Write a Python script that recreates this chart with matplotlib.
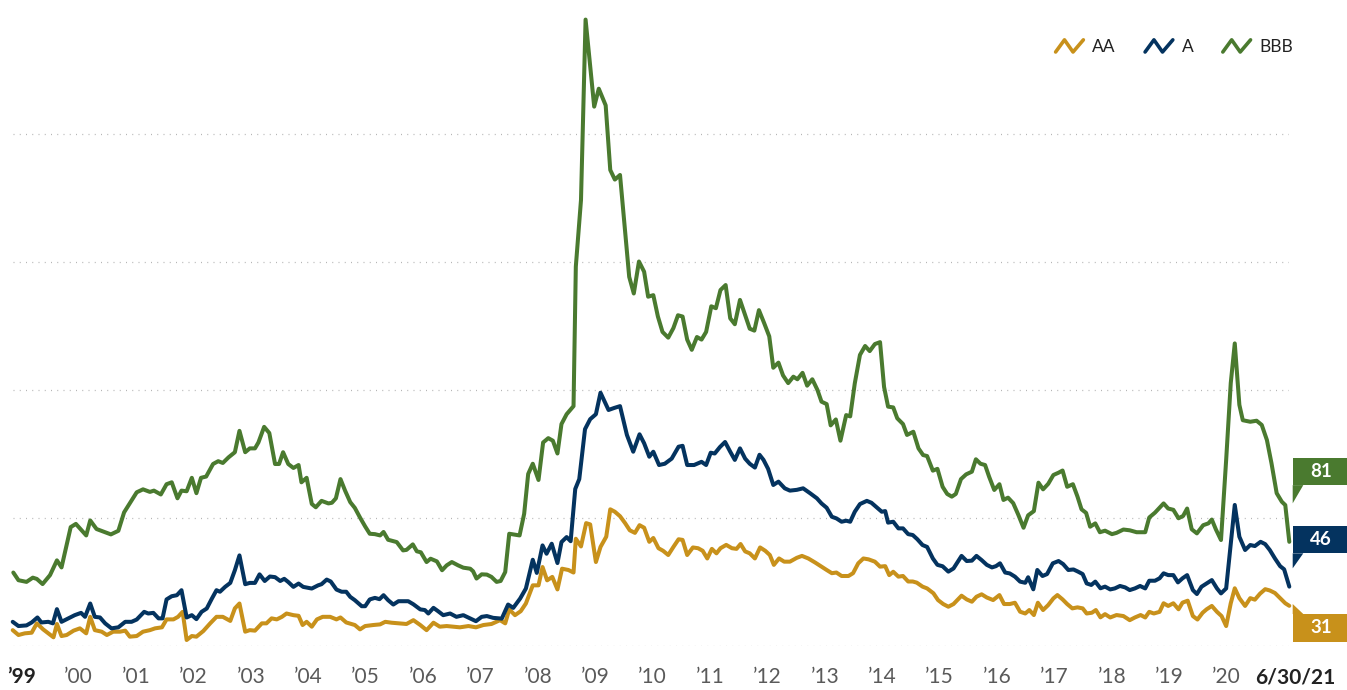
import numpy as np
import matplotlib
matplotlib.use("Agg")
import matplotlib.pyplot as plt
from matplotlib.legend_handler import HandlerBase
from matplotlib.lines import Line2D
from matplotlib.patches import Polygon, Rectangle
from matplotlib.transforms import IdentityTransform, blended_transform_factory

plt.rcParams['font.family'] = ['Lato', 'DejaVu Sans']

# ---------------- data (decimal year, spread in bps) ----------------
bbb_t = [1999.11, 1999.20, 1999.34, 1999.45, 1999.52, 1999.62, 1999.75, 1999.87, 1999.95,
         2000.11, 2000.20, 2000.38, 2000.45, 2000.56, 2000.68, 2000.81, 2000.94,
         2001.04, 2001.11, 2001.26, 2001.37, 2001.49, 2001.56, 2001.68, 2001.78, 2001.87, 2001.97,
         2002.04, 2002.13, 2002.22, 2002.30, 2002.38, 2002.47, 2002.59, 2002.68, 2002.76, 2002.86, 2002.97,
         2003.05, 2003.15, 2003.23, 2003.32, 2003.38, 2003.48, 2003.57, 2003.67, 2003.74, 2003.81, 2003.90, 2003.99,
         2004.08, 2004.13, 2004.22, 2004.31, 2004.38, 2004.48, 2004.60, 2004.66, 2004.73, 2004.81, 2004.89, 2004.98,
         2005.06, 2005.15, 2005.24, 2005.32, 2005.41, 2005.50, 2005.56, 2005.64, 2005.79, 2005.90, 2005.96,
         2006.07, 2006.14, 2006.21, 2006.31, 2006.38, 2006.49, 2006.58, 2006.66, 2006.75, 2006.86, 2006.95,
         2007.07, 2007.12, 2007.18, 2007.27, 2007.36, 2007.44, 2007.53, 2007.60, 2007.68, 2007.75, 2007.93,
         2008.01, 2008.08, 2008.16, 2008.26, 2008.34, 2008.43, 2008.51, 2008.59, 2008.66, 2008.75, 2008.87, 2008.91,
         2009.00, 2009.08, 2009.23, 2009.31, 2009.43, 2009.51, 2009.59, 2009.68, 2009.84, 2009.92,
         2010.01, 2010.10, 2010.17, 2010.26, 2010.34, 2010.42, 2010.52, 2010.61, 2010.69, 2010.77, 2010.85, 2010.93,
         2011.02, 2011.10, 2011.18, 2011.27, 2011.35, 2011.43, 2011.52, 2011.60, 2011.68, 2011.77, 2011.86, 2011.94,
         2012.02, 2012.10, 2012.19, 2012.28, 2012.35, 2012.44, 2012.52, 2012.61, 2012.70, 2012.77, 2012.86, 2012.94,
         2013.03, 2013.12, 2013.19, 2013.28, 2013.35, 2013.44, 2013.52, 2013.62, 2013.69, 2013.77, 2013.86, 2013.95,
         2014.03, 2014.12, 2014.21, 2014.28, 2014.35, 2014.44, 2014.51, 2014.61, 2014.68, 2014.79, 2014.88, 2014.96,
         2015.03, 2015.13, 2015.21, 2015.30, 2015.38, 2015.46, 2015.53, 2015.62, 2015.71, 2015.81, 2015.88, 2015.96,
         2016.04, 2016.11, 2016.20, 2016.29, 2016.36, 2016.44, 2016.53, 2016.62, 2016.71, 2016.79, 2016.89, 2016.97,
         2017.05, 2017.14, 2017.23, 2017.32, 2017.39, 2017.47, 2017.57, 2017.65, 2017.72, 2017.80, 2017.87, 2017.96,
         2018.04, 2018.13, 2018.25, 2018.33, 2018.45, 2018.56, 2018.68, 2018.83, 2018.90,
         2019.00, 2019.15, 2019.23, 2019.32, 2019.41, 2019.49, 2019.56, 2019.64, 2019.73, 2019.84, 2019.93, 2019.99,
         2020.06, 2020.15, 2020.24, 2020.32, 2020.39, 2020.47, 2020.53, 2020.66, 2020.77, 2020.86, 2020.95,
         2021.03, 2021.12, 2021.21, 2021.27, 2021.34]
bbb_v = [57, 51, 49.7, 53, 52, 48, 55, 66.5, 61,
         92.5, 95, 86, 97.7, 91, 89, 86.8, 89.6,
         104, 109, 119.7, 122, 120, 121, 118, 126, 127.5, 115,
         121, 120.5, 131, 119, 131, 132, 141.8, 144, 142.6, 147, 151,
         167.7, 151, 154, 154, 158.6, 170.8, 166, 141.8, 141.8, 151, 141.8, 138.7,
         141, 127.5, 131, 110.6, 108, 113, 111, 111.5, 115, 130, 121, 112,
         107.5, 100, 93, 87.3, 87, 86, 88.7, 82.6, 80.8, 74.3, 74.7,
         79, 73.6, 72.8, 65.2, 67.8, 65.7, 58.8, 62.6, 65.2, 62.6, 60.8,
         60, 58, 52.3, 55.6, 55.4, 53.6, 49.7, 50.4, 57.4, 87.3, 86,
         102.9, 134, 142, 129.3, 158.6, 162, 160, 150, 173, 180.7, 187, 296,
         348, 489, 421, 435, 422, 371.5, 364, 367.6, 288, 275,
         300, 292, 272.5, 273.7, 257, 245, 240.5, 248, 258, 257, 239, 231,
         241, 239, 245, 265, 263.5, 277.7, 281.6, 255.6, 251, 270, 258, 247.5,
         246, 262, 252, 241.5, 217, 221, 211, 205, 210, 208, 213, 203,
         208, 199.6, 190.5, 188.6, 172, 176.6, 160, 180, 179, 204.8, 227, 234,
         230, 235.5, 237, 202, 186.6, 186, 177.5, 173, 164.5, 167, 154, 148.8,
         148, 136.6, 138, 124, 118.4, 116.3, 118.4, 130, 133.7, 135.8, 145.5, 142,
         141, 131.9, 121.5, 126, 113.7, 115.5, 111.2, 102, 92, 101.7, 105, 127.2,
         122, 126.3, 133.2, 135, 136.7, 124, 126, 116.3, 106.4, 103.6, 92.8, 95.4,
         88.5, 89.7, 87, 88, 90.6, 90, 88.5, 88.5, 100,
         103.8, 111, 107, 106, 99.4, 101.2, 107, 90.8, 87.6, 94, 95.4, 98.4,
         90.8, 82.4, 145, 205, 236, 188, 176, 174.8, 175.6, 172.3, 160.5,
         142.3, 119, 112.3, 109.7, 81]

a_t = [1999.10, 1999.20, 1999.34, 1999.43, 1999.53, 1999.60, 1999.72, 1999.80, 1999.87, 1999.95,
       2000.07, 2000.18, 2000.29, 2000.36, 2000.45, 2000.53, 2000.62, 2000.71, 2000.82, 2000.94,
       2001.06, 2001.17, 2001.26, 2001.39, 2001.46, 2001.55, 2001.64, 2001.71, 2001.78, 2001.87, 2001.96,
       2002.04, 2002.13, 2002.22, 2002.30, 2002.39, 2002.48, 2002.57, 2002.65, 2002.71, 2002.80, 2002.89, 2002.97,
       2003.05, 2003.15, 2003.23, 2003.32, 2003.40, 2003.49, 2003.58, 2003.67, 2003.76, 2003.83, 2003.90, 2003.99,
       2004.08, 2004.16, 2004.31, 2004.42, 2004.48, 2004.57, 2004.64, 2004.74, 2004.83, 2004.91, 2004.98,
       2005.06, 2005.18, 2005.24, 2005.32, 2005.41, 2005.49, 2005.56, 2005.64, 2005.73, 2005.82, 2005.90, 2005.99,
       2006.08, 2006.20, 2006.28, 2006.34, 2006.43, 2006.51, 2006.60, 2006.72, 2006.83, 2006.95,
       2007.05, 2007.17, 2007.27, 2007.36, 2007.47, 2007.62, 2007.73, 2007.82, 2007.94,
       2008.04, 2008.16, 2008.23, 2008.33, 2008.40, 2008.49, 2008.59, 2008.66, 2008.75, 2008.82, 2008.90, 2008.97,
       2009.07, 2009.16, 2009.26, 2009.34, 2009.48, 2009.58, 2009.68, 2009.80, 2009.91,
       2010.02, 2010.10, 2010.19, 2010.26, 2010.36, 2010.46, 2010.58, 2010.70, 2010.77, 2010.85, 2010.97,
       2011.10, 2011.18, 2011.26, 2011.33, 2011.42, 2011.51, 2011.60, 2011.68, 2011.77, 2011.86, 2011.94,
       2012.03, 2012.11, 2012.18, 2012.26, 2012.35, 2012.44, 2012.55, 2012.64, 2012.76, 2012.87, 2012.99,
       2013.11, 2013.19, 2013.28, 2013.37, 2013.45, 2013.54, 2013.62, 2013.69, 2013.77, 2013.86, 2013.98,
       2014.06, 2014.15, 2014.24, 2014.30, 2014.35, 2014.44, 2014.53, 2014.61, 2014.70, 2014.78, 2014.86, 2014.95,
       2015.03, 2015.13, 2015.21, 2015.30, 2015.40, 2015.49, 2015.63, 2015.72, 2015.81, 2015.89, 2015.98,
       2016.07, 2016.16, 2016.23, 2016.30, 2016.39, 2016.47, 2016.56, 2016.65, 2016.74, 2016.79, 2016.88, 2016.95,
       2017.04, 2017.12, 2017.22, 2017.32, 2017.40, 2017.49, 2017.58, 2017.66, 2017.74, 2017.81, 2017.89, 2017.96,
       2018.05, 2018.13, 2018.22, 2018.30, 2018.39, 2018.48, 2018.56, 2018.65, 2018.74, 2018.83, 2018.90,
       2019.00, 2019.08, 2019.15, 2019.23, 2019.32, 2019.40, 2019.48, 2019.56, 2019.66, 2019.73, 2019.81, 2019.90, 2019.99,
       2020.08, 2020.15, 2020.24, 2020.32, 2020.39, 2020.47, 2020.57, 2020.66, 2020.74, 2020.84, 2020.92,
       2021.00, 2021.09, 2021.18, 2021.25, 2021.34]
a_v = [18.5, 15.2, 15.7, 18, 21.9, 18, 18.5, 17.3, 28.4, 18.5,
       21.2, 23.7, 25.5, 22.4, 32.8, 22.4, 21.9, 17.3, 13.4, 14.2,
       18.5, 18.5, 20.3, 26.3, 25, 25.5, 21.2, 21.2, 36, 38.5, 39.3,
       43.2, 21.9, 23.7, 20.6, 26.3, 28.9, 36.7, 43.2, 42, 45.8, 48.9, 58.8,
       70.4, 47.9, 48.9, 48.9, 55.6, 50.4, 53.9, 53.4, 50.4, 52.1, 49.6, 45.8,
       48.4, 45.8, 44.5, 47, 47.9, 51.5, 50, 43.7, 42, 42, 38,
       35.4, 30.7, 30.7, 36, 37.2, 36.2, 39.3, 35.4, 32, 34.6, 34.6, 34.6,
       32.2, 28.2, 27.7, 25, 29.4, 26.8, 23.7, 25, 22.4, 23.7,
       21.6, 19, 22.4, 23, 21.6, 21, 32, 29.4, 36.7,
       44.5, 67, 56.7, 78.2, 71.7, 79.5, 64.4, 80.8, 84.7, 81.5, 122.3, 130,
       169, 176.8, 180.7, 197.5, 184, 185.6, 187, 164.5, 151.4,
       165, 158, 147.5, 151.4, 141, 142, 146, 155.3, 156, 141, 141,
       143.5, 141, 150.6, 150, 155, 159, 151.4, 145, 154, 146, 142,
       139, 149, 145, 138, 125.4, 128, 122.8, 121, 121.6, 122.8, 119,
       115, 111, 107.6, 100.6, 99.3, 96.7, 97.5, 96.7, 104.5, 110.5, 113,
       111.5, 108, 104.5, 105, 96, 96.7, 91.5, 91.5, 87, 86.3, 83, 78.5,
       77, 68, 63, 61.9, 57.7, 60.2, 70, 66, 66.3, 70, 66.7,
       63, 61, 62, 64.2, 57, 56.3, 53.8, 49.9, 49, 53.3, 43.9, 59,
       54.3, 55.8, 64.2, 66, 63.6, 59, 59.4, 57.7, 55.8, 48.5, 47.3, 49.9,
       44.7, 46, 43.8, 44.6, 46.5, 45.4, 43.3, 44.6, 46.5, 44.6, 50.6,
       50.6, 52.5, 56.4, 55, 55, 49.3, 52.5, 55, 43.3, 40.2, 45.9, 48.5, 51.1,
       44.6, 40.7, 44.6, 79.8, 109.8, 85, 74.6, 78.5, 77.7, 81, 79.2,
       74.6, 68, 62, 59.5, 46]

aa_t = [1999.10, 1999.20, 1999.31, 1999.43, 1999.52, 1999.63, 1999.72, 1999.81, 1999.87, 1999.95,
        2000.04, 2000.16, 2000.27, 2000.38, 2000.45, 2000.53, 2000.65, 2000.74, 2000.85, 2000.97,
        2001.06, 2001.14, 2001.26, 2001.37, 2001.49, 2001.58, 2001.70, 2001.78, 2001.90, 2001.98,
        2002.06, 2002.13, 2002.22, 2002.30, 2002.42, 2002.54, 2002.65, 2002.76, 2002.89, 2002.97,
        2003.05, 2003.15, 2003.23, 2003.32, 2003.44, 2003.52, 2003.61, 2003.70, 2003.79, 2003.87, 2003.99,
        2004.08, 2004.15, 2004.22, 2004.31, 2004.40, 2004.50, 2004.63, 2004.74, 2004.81, 2004.91,
        2005.06, 2005.15, 2005.24, 2005.38, 2005.50, 2005.59, 2005.70, 2005.82, 2005.96,
        2006.08, 2006.20, 2006.31, 2006.43, 2006.54, 2006.66, 2006.78, 2006.89,
        2007.04, 2007.17, 2007.30, 2007.44, 2007.59, 2007.68, 2007.75, 2007.85, 2007.95,
        2008.04, 2008.16, 2008.26, 2008.33, 2008.41, 2008.50, 2008.59, 2008.67, 2008.78, 2008.87, 2008.91,
        2009.00, 2009.09, 2009.16, 2009.26, 2009.34, 2009.44, 2009.51, 2009.59, 2009.68, 2009.77, 2009.85, 2009.94,
        2010.02, 2010.10, 2010.19, 2010.26, 2010.35, 2010.43, 2010.52, 2010.61, 2010.70, 2010.77, 2010.85, 2010.95,
        2011.04, 2011.12, 2011.20, 2011.28, 2011.36, 2011.43, 2011.53, 2011.63, 2011.71, 2011.78, 2011.86, 2011.94,
        2012.03, 2012.12, 2012.21, 2012.29, 2012.36, 2012.45, 2012.54, 2012.64, 2012.76, 2012.85, 2012.96,
        2013.08, 2013.19, 2013.28, 2013.37, 2013.45, 2013.54, 2013.66, 2013.74, 2013.83, 2013.92,
        2014.01, 2014.12, 2014.21, 2014.30, 2014.37, 2014.44, 2014.53, 2014.61, 2014.70, 2014.78, 2014.85, 2014.95,
        2015.03, 2015.14, 2015.22, 2015.31, 2015.40, 2015.49, 2015.63, 2015.72, 2015.81, 2015.89, 2015.98,
        2016.07, 2016.18, 2016.29, 2016.37, 2016.47, 2016.56, 2016.65, 2016.74, 2016.81, 2016.89, 2016.96,
        2017.05, 2017.14, 2017.23, 2017.30, 2017.39, 2017.47, 2017.56, 2017.65, 2017.74, 2017.81, 2017.90, 2017.97,
        2018.05, 2018.13, 2018.22, 2018.33, 2018.45, 2018.56, 2018.65, 2018.75, 2018.83, 2018.90, 2018.98,
        2019.08, 2019.15, 2019.23, 2019.32, 2019.41, 2019.48, 2019.57, 2019.66, 2019.74, 2019.83, 2019.90, 2019.99,
        2020.08, 2020.16, 2020.24, 2020.32, 2020.39, 2020.47, 2020.57, 2020.66, 2020.74, 2020.83, 2020.92,
        2021.00, 2021.09, 2021.18, 2021.27, 2021.34]
aa_v = [12, 8.2, 9.5, 10, 17.3, 12.6, 9.5, 6.4, 16.8, 7.4,
        8.2, 11.6, 13.4, 9.5, 22.4, 12, 10.8, 8.2, 10.8, 10.8,
        11.6, 6.9, 7.4, 10.8, 12, 13.4, 14.2, 20.4, 20.4, 22.4,
        26.3, 4.3, 7.4, 6.9, 11.3, 17.3, 22.4, 22.4, 19.2, 29,
        32.8, 10.8, 12, 11.6, 17.3, 17.3, 21.2, 20.4, 22.4, 25, 23.7,
        23.2, 16, 18.5, 14.7, 20.4, 22.4, 22.4, 20.4, 21.9, 18,
        16, 12.6, 15.2, 16, 16.5, 18.5, 17.8, 17.3, 16.8,
        19.8, 16, 12, 17.8, 14.7, 15.2, 14.7, 14.2,
        15.2, 14.2, 16, 16.8, 19.8, 17.3, 28.2, 23.7, 26.8,
        32.8, 47, 47, 61.3, 50.9, 53.6, 43.8, 60, 59, 57, 83.4,
        77.4, 95.6, 94.6, 65.2, 77, 85, 106.4, 104.5, 101, 95.5, 90, 88,
        94, 92, 81, 84, 76, 74, 70.7, 77, 83, 82.5, 70.7, 76.6,
        76, 74, 68, 75.5, 72, 76, 78.6, 76, 75.5, 79.3, 73.5, 72,
        68, 76.6, 74, 70.7, 63, 68, 65.5, 65.5, 68.5, 70, 68,
        64.8, 61.6, 59, 56.5, 57, 54.3, 54.3, 56.5, 64.2, 68,
        67.3, 65.5, 61.6, 62, 55, 57.6, 53.8, 54.3, 50, 50, 49.1, 46,
        44.6, 40.8, 35.5, 32.4, 30.3, 32.4, 38.9, 36, 34.2, 38.1, 40,
        37.5, 35.5, 39.4, 32.4, 32.4, 33.4, 26.4, 25, 27.7, 23.8, 33.4,
        27.7, 31.6, 36.8, 39.4, 36, 32.4, 29, 29.8, 29, 25, 25.6, 27.7,
        22, 24.5, 21.9, 23.8, 23, 19.8, 21.9, 23.8, 21.9, 26.3, 25,
        26.3, 33, 30.9, 33, 28.3, 33.5, 35, 23, 20.3, 25.6, 28.3, 30.9,
        26.3, 23, 15.2, 33, 44.7, 37, 30.9, 37, 35.8, 40.5, 44,
        43, 41, 37, 33, 31]

series_names = ['AA', 'A', 'BBB']
series_colors = ['#C8911B', '#04335F', '#4A7A2F']
year_ticks = list(range(1999, 2021))
end_label = '6/30/21'
gridline_values = [0, 100, 200, 300, 400]

# ---------------- figure ----------------
W, H = 1347, 690
fig = plt.figure(figsize=(W / 100, H / 100), dpi=100)
ax = fig.add_axes([12.5 / W, 44.5 / H, 1276.8 / W, 633.6 / H])
ax.set_xlim(1999.096, 2021.34)
ax.set_ylim(0, 495)
ax.axis('off')

for g in gridline_values:
    ax.axhline(g, color='#b5b5b5', lw=0.9, ls=(0, (0.8, 4.2)), zorder=1)

lw = 2.9
lines = []
for (t, v), name, col in zip([(aa_t, aa_v), (a_t, a_v), (bbb_t, bbb_v)], series_names, series_colors):
    ln, = ax.plot(t, v, color=col, lw=lw, solid_joinstyle='round', solid_capstyle='round',
                  clip_on=False, zorder=3, label=name)
    lines.append(ln)

# x labels
tr = blended_transform_factory(ax.transData, ax.transAxes)
ylab = (13 - 44.5) / 633.6
for yr in year_ticks:
    s = '\u2019' + str(yr)[2:]
    if yr == year_ticks[0]:
        ax.text(yr, ylab, s, transform=tr, ha='left', va='center', fontsize=15,
                fontweight='bold', color='#222222')
    else:
        ax.text(yr, ylab, s, transform=tr, ha='left', va='center', fontsize=15,
                color='#5a5a5a')
ax.text(2021.44, ylab, end_label, transform=tr, ha='center', va='center', fontsize=15,
        fontweight='bold', color='#222222')


# legend with zigzag icons
class Zig(HandlerBase):
    def create_artists(self, legend, orig_handle, xdescent, ydescent, width, height, fontsize, trans):
        xs = np.array([0.03, 0.33, 0.62, 0.97]) * width - xdescent
        ys = np.array([0.0, 1.0, 0.0, 1.0]) * height - ydescent
        l = Line2D(xs, ys, color=orig_handle.get_color(), lw=2.6,
                   solid_capstyle='round', solid_joinstyle='round')
        l.set_transform(trans)
        return [l]


leg = fig.legend(handles=lines, labels=series_names, handler_map={Line2D: Zig()},
                 loc='center right', bbox_to_anchor=(1293 / W, (H - 47) / H),
                 bbox_transform=fig.transFigure, ncol=3, frameon=False,
                 prop={'size': 12.5}, handlelength=1.7, handleheight=0.7,
                 handletextpad=0.45, columnspacing=1.65, borderpad=0, borderaxespad=0)
for txt in leg.get_texts():
    txt.set_color('#222222')

# end-value flags
fig.canvas.draw()
flag_layout = [  # (rect offset px, tip offset px, below?)
    (-8.2, 1.8, True),
    (33.3, 18.3, False),
    (56.7, 38.5, False),
]
idt = IdentityTransform()
for (t, v), col, (roff, toff, below) in zip([(aa_t, aa_v), (a_t, a_v), (bbb_t, bbb_v)],
                                             series_colors, flag_layout):
    x0, y0 = ax.transData.transform((t[-1], v[-1]))
    fx = x0 + 3.4
    fw = W - fx
    fh = 27.5
    if below:
        top = y0 + roff
        bot = top - fh
        tri = [(fx, top), (fx + 10.6, top), (fx, y0 + toff)]
    else:
        bot = y0 + roff
        top = bot + fh
        tri = [(fx, bot), (fx + 10.6, bot), (fx, y0 + toff)]
    fig.add_artist(Rectangle((fx, bot), fw, fh, facecolor=col, edgecolor='none', transform=idt))
    fig.add_artist(Polygon(tri, closed=True, facecolor=col, edgecolor='none', transform=idt))
    fig.text((fx + fw / 2 + 1) / W, (bot + fh / 2) / H, f'{v[-1]:.0f}', ha='center', va='center',
             fontsize=13.5, fontweight='bold', color='white')

fig.savefig('out.png', dpi=100)
